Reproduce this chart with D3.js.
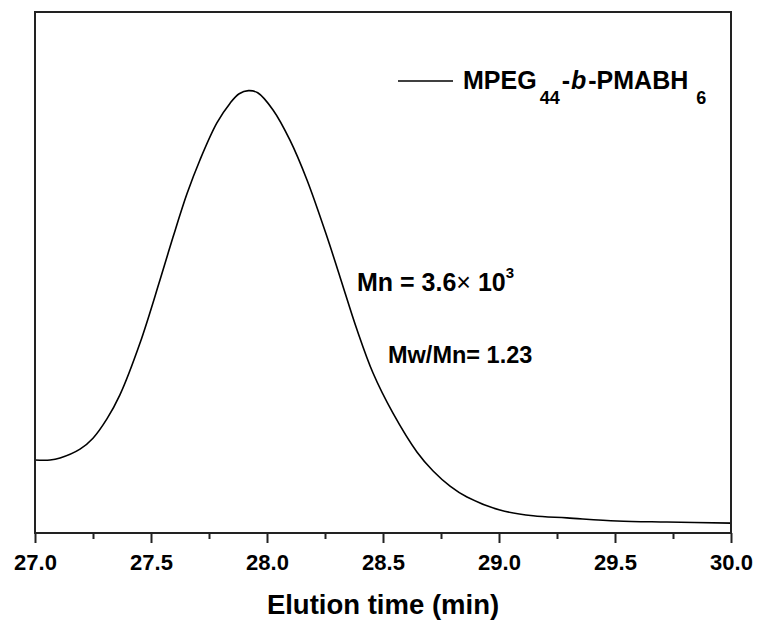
<!DOCTYPE html>
<html>
<head>
<meta charset="utf-8">
<script src="https://cdn.jsdelivr.net/npm/d3@7"></script>
<style>
  body { margin: 0; background: #fff; }
  text { font-family: "Liberation Sans", Arial, sans-serif; font-weight: bold; fill: #000; }
</style>
</head>
<body>
<svg id="chart"></svg>
<script>
// elution time (min) and detector response (normalised)
var times = [27.0, 27.065, 27.108, 27.194, 27.25, 27.31, 27.366, 27.453, 27.539, 27.595,
  27.655, 27.711, 27.784, 27.841, 27.88, 27.92, 27.96, 28.026, 28.099, 28.172, 28.259,
  28.315, 28.388, 28.457, 28.543, 28.647, 28.716, 28.789, 28.862, 29.004, 29.147,
  29.293, 29.509, 29.724, 30.0];
var signal = [0.140, 0.140, 0.144, 0.161, 0.182, 0.219, 0.265, 0.365, 0.486, 0.568,
  0.651, 0.716, 0.787, 0.825, 0.843, 0.849, 0.845, 0.812, 0.754, 0.678, 0.568,
  0.491, 0.390, 0.307, 0.230, 0.155, 0.119, 0.090, 0.069, 0.044, 0.033,
  0.029, 0.023, 0.021, 0.019];

var majorTicks = [27.0, 27.5, 28.0, 28.5, 29.0, 29.5, 30.0];
var minorTicks = [27.25, 27.75, 28.25, 28.75, 29.25, 29.75];

var xTitle = "Elution time (min)";

var data = times.map(function (t, i) { return { x: t, y: signal[i] }; });

var margin = { top: 12, right: 30, bottom: 90, left: 35 };
var width = 761 - margin.left - margin.right;
var height = 623 - margin.top - margin.bottom;

var svg = d3.select("#chart")
  .attr("width", 761)
  .attr("height", 623)
  .append("g")
  .attr("transform", "translate(" + margin.left + "," + margin.top + ")");

var xScale = d3.scaleLinear().domain([27, 30]).range([0, width]);
var yScale = d3.scaleLinear().domain([0, 1]).range([height, 0]);

// the trace
var line = d3.line()
  .x(function (d) { return xScale(d.x); })
  .y(function (d) { return yScale(d.y); })
  .curve(d3.curveCatmullRom.alpha(0.5));

svg.append("path")
  .datum(data)
  .attr("d", line)
  .attr("fill", "none")
  .attr("stroke", "#000")
  .attr("stroke-width", 1.6);

// frame
svg.append("rect")
  .attr("x", 0).attr("y", 0)
  .attr("width", width).attr("height", height)
  .attr("fill", "none")
  .attr("stroke", "#222")
  .attr("stroke-width", 2);

// minor ticks
var minorAxis = svg.append("g")
  .attr("transform", "translate(0," + height + ")")
  .call(d3.axisBottom(xScale).tickValues(minorTicks).tickSize(6).tickFormat(""));
minorAxis.select(".domain").remove();
minorAxis.selectAll("line").attr("stroke", "#222").attr("stroke-width", 2);

// major ticks + labels
var xAxis = svg.append("g")
  .attr("transform", "translate(0," + height + ")")
  .call(d3.axisBottom(xScale).tickValues(majorTicks).tickSize(10).tickPadding(11)
    .tickFormat(d3.format(".1f")));
xAxis.select(".domain").remove();
xAxis.selectAll("line").attr("stroke", "#222").attr("stroke-width", 2);
xAxis.selectAll("text")
  .style("font-family", "'Liberation Sans', Arial, sans-serif")
  .style("font-weight", "bold")
  .style("font-size", "22px")
  .attr("fill", "#000");

svg.append("text")
  .attr("x", width / 2)
  .attr("y", height + 81)
  .attr("text-anchor", "middle")
  .style("font-size", "27.5px")
  .text(xTitle);

// legend
svg.append("line")
  .attr("x1", 363).attr("x2", 418)
  .attr("y1", 69).attr("y2", 69)
  .attr("stroke", "#000")
  .attr("stroke-width", 1.6);

var leg = svg.append("text")
  .attr("x", 428)
  .attr("y", 77)
  .style("font-size", "25px");
leg.append("tspan").text("MPEG");
leg.append("tspan").attr("dx", 3).attr("dy", 15).style("font-size", "18px").text("44");
leg.append("tspan").attr("dx", 2).attr("dy", -15).text("-");
leg.append("tspan").attr("dx", 1).style("font-style", "italic").text("b");
leg.append("tspan").attr("dx", 2).text("-PMABH");
leg.append("tspan").attr("dx", 8).attr("dy", 15).style("font-size", "18px").text("6");

// annotations
var mn = svg.append("text")
  .attr("x", 322)
  .attr("y", 279)
  .style("font-size", "25px");
mn.append("tspan").text("Mn = 3.6");
mn.append("tspan").style("font-weight", "normal").text("\u00d7");
mn.append("tspan").text(" 10");
mn.append("tspan").attr("dy", -13).style("font-size", "15px").text("3");

svg.append("text")
  .attr("x", 353)
  .attr("y", 351)
  .style("font-size", "23.5px")
  .text("Mw/Mn= 1.23");
</script>
</body>
</html>
